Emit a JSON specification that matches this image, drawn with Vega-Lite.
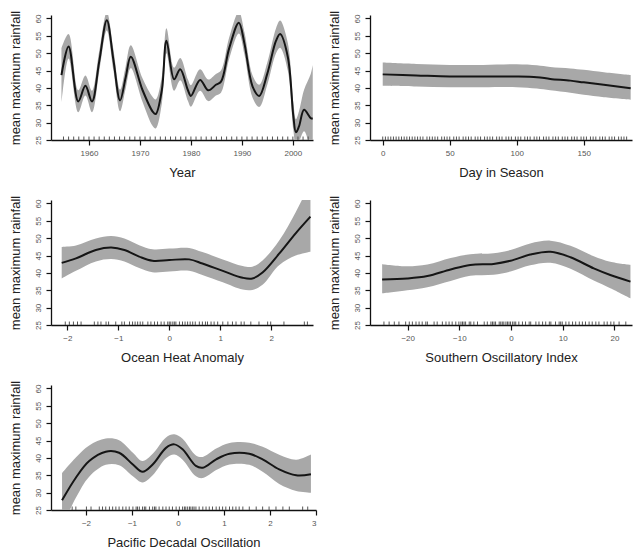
{
  "$schema": "https://vega.github.io/schema/vega-lite/v6.json",
  "background": "white",
  "padding": {"left": 8, "top": 10, "right": 4, "bottom": 5},
  "columns": 2,
  "spacing": {"row": 60, "column": 54},
  "bounds": "flush",
  "config": {
    "view": {"stroke": null},
    "font": "Liberation Sans",
    "axis": {
      "grid": false,
      "domainColor": "#111",
      "domainWidth": 1.3,
      "tickColor": "#111",
      "tickWidth": 1.2,
      "tickSize": 5,
      "tickCount": 20,
      "format": "d",
      "labelFontSize": 8,
      "labelColor": "#555",
      "labelOverlap": false,
      "titleFontSize": 13,
      "titleFontWeight": "normal",
      "titleColor": "#222"
    },
    "axisX": {"labelPadding": 4, "titlePadding": 9},
    "axisY": {"labelAngle": -90, "labelAlign": "center", "labelBaseline": "bottom", "labelPadding": 4, "titlePadding": 12, "labelBound": false}
  },
  "datasets": {
    "year_fit": [
      {"x": 1954.6, "fit": 43.7, "lo": 35.6, "hi": 51.4},
      {"x": 1956.0, "fit": 51.9, "lo": 48.5, "hi": 55.5},
      {"x": 1957.9, "fit": 36.1, "lo": 33.0, "hi": 39.3},
      {"x": 1959.3, "fit": 40.6, "lo": 37.8, "hi": 43.6},
      {"x": 1960.6, "fit": 36.1, "lo": 33.0, "hi": 39.2},
      {"x": 1962.0, "fit": 47.5, "lo": 44.5, "hi": 50.5},
      {"x": 1963.5, "fit": 59.5, "lo": 56.5, "hi": 61.8},
      {"x": 1964.8, "fit": 48.0, "lo": 45.0, "hi": 51.0},
      {"x": 1966.1, "fit": 36.4, "lo": 33.3, "hi": 39.5},
      {"x": 1967.2, "fit": 43.0, "lo": 39.8, "hi": 46.2},
      {"x": 1968.2, "fit": 49.0, "lo": 45.7, "hi": 52.3},
      {"x": 1970.5, "fit": 39.4, "lo": 36.0, "hi": 42.8},
      {"x": 1972.5, "fit": 33.2, "lo": 29.0, "hi": 37.4},
      {"x": 1973.1, "fit": 32.5, "lo": 28.3, "hi": 36.7},
      {"x": 1974.3, "fit": 39.4, "lo": 35.5, "hi": 43.3},
      {"x": 1975.2, "fit": 53.6, "lo": 50.0, "hi": 57.2},
      {"x": 1976.7, "fit": 42.5, "lo": 39.2, "hi": 45.8},
      {"x": 1977.9, "fit": 45.4, "lo": 42.2, "hi": 48.6},
      {"x": 1979.4, "fit": 39.4, "lo": 36.3, "hi": 42.5},
      {"x": 1980.0, "fit": 37.7, "lo": 34.6, "hi": 40.8},
      {"x": 1981.8, "fit": 42.3, "lo": 39.2, "hi": 45.4},
      {"x": 1983.4, "fit": 39.3, "lo": 36.2, "hi": 42.4},
      {"x": 1984.9, "fit": 40.9, "lo": 37.8, "hi": 44.0},
      {"x": 1985.9, "fit": 41.8, "lo": 38.6, "hi": 45.0},
      {"x": 1987.5, "fit": 51.4, "lo": 48.3, "hi": 54.5},
      {"x": 1989.4, "fit": 58.8, "lo": 55.7, "hi": 61.9},
      {"x": 1990.5, "fit": 52.8, "lo": 49.6, "hi": 56.0},
      {"x": 1992.1, "fit": 40.4, "lo": 37.2, "hi": 43.6},
      {"x": 1993.4, "fit": 37.7, "lo": 34.5, "hi": 40.9},
      {"x": 1995.0, "fit": 44.2, "lo": 41.0, "hi": 47.4},
      {"x": 1996.7, "fit": 53.6, "lo": 50.0, "hi": 57.2},
      {"x": 1997.5, "fit": 55.5, "lo": 51.6, "hi": 59.4},
      {"x": 1999.0, "fit": 49.0, "lo": 45.0, "hi": 53.0},
      {"x": 2000.1, "fit": 31.8, "lo": 27.8, "hi": 35.8},
      {"x": 2000.6, "fit": 27.2, "lo": 23.5, "hi": 31.0},
      {"x": 2001.2, "fit": 28.9, "lo": 24.5, "hi": 33.3},
      {"x": 2002.2, "fit": 33.7, "lo": 27.5, "hi": 39.5},
      {"x": 2003.5, "fit": 31.3, "lo": 22.0, "hi": 44.0},
      {"x": 2003.9, "fit": 31.2, "lo": 20.0, "hi": 46.6}
    ],
    "year_rug": [
      {"x": 1955}, {"x": 1956}, {"x": 1957}, {"x": 1958}, {"x": 1959}, {"x": 1960}, {"x": 1961}, {"x": 1962}, {"x": 1963}, {"x": 1964},
      {"x": 1965}, {"x": 1966}, {"x": 1967}, {"x": 1968}, {"x": 1969}, {"x": 1970}, {"x": 1971}, {"x": 1972}, {"x": 1973}, {"x": 1974},
      {"x": 1975}, {"x": 1976}, {"x": 1977}, {"x": 1978}, {"x": 1979}, {"x": 1980}, {"x": 1981}, {"x": 1982}, {"x": 1983}, {"x": 1984},
      {"x": 1985}, {"x": 1986}, {"x": 1987}, {"x": 1988}, {"x": 1989}, {"x": 1990}, {"x": 1991}, {"x": 1992}, {"x": 1993}, {"x": 1994},
      {"x": 1995}, {"x": 1996}, {"x": 1997}, {"x": 1998}, {"x": 1999}, {"x": 2000}, {"x": 2001}, {"x": 2002}, {"x": 2003}
    ],
    "day_fit": [
      {"x": 0, "fit": 43.9, "lo": 40.6, "hi": 47.3},
      {"x": 25, "fit": 43.6, "lo": 40.4, "hi": 46.9},
      {"x": 50, "fit": 43.3, "lo": 40.2, "hi": 46.6},
      {"x": 75, "fit": 43.3, "lo": 40.2, "hi": 46.6},
      {"x": 100, "fit": 43.3, "lo": 40.2, "hi": 46.8},
      {"x": 115, "fit": 43.1, "lo": 39.8, "hi": 46.5},
      {"x": 125, "fit": 42.6, "lo": 39.3, "hi": 46.0},
      {"x": 140, "fit": 42.1, "lo": 38.6, "hi": 45.6},
      {"x": 150, "fit": 41.6, "lo": 38.0, "hi": 45.2},
      {"x": 165, "fit": 40.9, "lo": 37.3, "hi": 44.5},
      {"x": 185, "fit": 39.9, "lo": 36.6, "hi": 43.7}
    ],
    "day_rug": [
      {"x": 0}, {"x": 2}, {"x": 4}, {"x": 6}, {"x": 8}, {"x": 10}, {"x": 12}, {"x": 14}, {"x": 16}, {"x": 18},
      {"x": 20}, {"x": 22}, {"x": 24}, {"x": 26}, {"x": 28}, {"x": 30}, {"x": 33}, {"x": 35}, {"x": 37}, {"x": 39},
      {"x": 41}, {"x": 44}, {"x": 46}, {"x": 48}, {"x": 50}, {"x": 53}, {"x": 55}, {"x": 57}, {"x": 60}, {"x": 62},
      {"x": 64}, {"x": 66}, {"x": 69}, {"x": 71}, {"x": 73}, {"x": 76}, {"x": 78}, {"x": 80}, {"x": 82}, {"x": 85},
      {"x": 87}, {"x": 89}, {"x": 92}, {"x": 94}, {"x": 96}, {"x": 99}, {"x": 101}, {"x": 103}, {"x": 106}, {"x": 108},
      {"x": 110}, {"x": 113}, {"x": 115}, {"x": 117}, {"x": 120}, {"x": 122}, {"x": 124}, {"x": 127}, {"x": 129}, {"x": 131},
      {"x": 134}, {"x": 136}, {"x": 138}, {"x": 141}, {"x": 143}, {"x": 145}, {"x": 148}, {"x": 150}, {"x": 152}, {"x": 155},
      {"x": 157}, {"x": 159}, {"x": 162}, {"x": 164}, {"x": 166}, {"x": 169}, {"x": 171}, {"x": 173}, {"x": 176}, {"x": 178},
      {"x": 180}, {"x": 182}
    ],
    "ocean_fit": [
      {"x": -2.11, "fit": 42.9, "lo": 38.4, "hi": 47.5},
      {"x": -1.83, "fit": 44.2, "lo": 40.6, "hi": 47.9},
      {"x": -1.44, "fit": 46.6, "lo": 43.3, "hi": 49.9},
      {"x": -1.14, "fit": 47.3, "lo": 44.0, "hi": 50.6},
      {"x": -0.88, "fit": 46.6, "lo": 43.3, "hi": 49.9},
      {"x": -0.59, "fit": 44.7, "lo": 41.4, "hi": 48.0},
      {"x": -0.33, "fit": 43.5, "lo": 40.2, "hi": 46.8},
      {"x": 0.0, "fit": 43.7, "lo": 40.4, "hi": 47.0},
      {"x": 0.39, "fit": 43.9, "lo": 40.6, "hi": 47.2},
      {"x": 0.65, "fit": 42.7, "lo": 39.4, "hi": 46.0},
      {"x": 1.05, "fit": 40.6, "lo": 37.3, "hi": 43.9},
      {"x": 1.44, "fit": 38.6, "lo": 35.2, "hi": 42.0},
      {"x": 1.63, "fit": 38.4, "lo": 35.1, "hi": 41.8},
      {"x": 1.83, "fit": 40.1, "lo": 36.6, "hi": 43.6},
      {"x": 2.16, "fit": 45.6, "lo": 42.3, "hi": 49.4},
      {"x": 2.48, "fit": 51.4, "lo": 45.0, "hi": 57.5},
      {"x": 2.77, "fit": 56.2, "lo": 46.1, "hi": 66.0}
    ],
    "ocean_rug": [
      {"x": -2.04}, {"x": -1.96}, {"x": -1.88}, {"x": -1.80}, {"x": -1.73}, {"x": -1.47}, {"x": -1.40}, {"x": -1.34}, {"x": -1.24}, {"x": -1.19},
      {"x": -1.05}, {"x": -0.93}, {"x": -0.88}, {"x": -0.78}, {"x": -0.72}, {"x": -0.67}, {"x": -0.62}, {"x": -0.57}, {"x": -0.52}, {"x": -0.42},
      {"x": -0.36}, {"x": -0.29}, {"x": -0.23}, {"x": -0.16}, {"x": -0.10}, {"x": -0.03}, {"x": 0.0}, {"x": 0.03}, {"x": 0.07}, {"x": 0.10},
      {"x": 0.13}, {"x": 0.20}, {"x": 0.26}, {"x": 0.31}, {"x": 0.36}, {"x": 0.41}, {"x": 0.46}, {"x": 0.51}, {"x": 0.59}, {"x": 0.65},
      {"x": 0.71}, {"x": 0.75}, {"x": 0.82}, {"x": 0.88}, {"x": 0.95}, {"x": 1.05}, {"x": 1.15}, {"x": 1.24}, {"x": 1.31}, {"x": 1.41},
      {"x": 1.47}, {"x": 1.60}, {"x": 1.76}, {"x": 1.93}, {"x": 1.99}, {"x": 2.25}, {"x": 2.65}, {"x": 2.71}
    ],
    "soi_fit": [
      {"x": -24.95, "fit": 38.1, "lo": 34.1, "hi": 42.5},
      {"x": -20.1, "fit": 38.4, "lo": 35.0, "hi": 41.9},
      {"x": -16.2, "fit": 39.1, "lo": 35.9, "hi": 42.4},
      {"x": -11.7, "fit": 41.0, "lo": 37.7, "hi": 44.3},
      {"x": -7.9, "fit": 42.3, "lo": 39.2, "hi": 45.4},
      {"x": -3.4, "fit": 42.6, "lo": 39.5, "hi": 45.7},
      {"x": -0.1, "fit": 43.5, "lo": 40.4, "hi": 46.6},
      {"x": 3.7, "fit": 45.3, "lo": 42.2, "hi": 48.5},
      {"x": 7.6, "fit": 46.1, "lo": 42.9, "hi": 49.3},
      {"x": 11.5, "fit": 44.5, "lo": 41.2, "hi": 47.8},
      {"x": 16.0, "fit": 41.3, "lo": 37.8, "hi": 44.8},
      {"x": 19.2, "fit": 39.4, "lo": 35.6, "hi": 43.2},
      {"x": 23.1, "fit": 37.5, "lo": 32.7, "hi": 42.3}
    ],
    "soi_rug": [
      {"x": -24.6}, {"x": -23.6}, {"x": -22.6}, {"x": -21.7}, {"x": -20.4}, {"x": -19.7}, {"x": -19.1}, {"x": -18.4}, {"x": -17.8}, {"x": -17.2},
      {"x": -16.5}, {"x": -16.2}, {"x": -14.9}, {"x": -14.3}, {"x": -13.3}, {"x": -12.6}, {"x": -12.0}, {"x": -11.4}, {"x": -10.7}, {"x": -10.1},
      {"x": -9.7}, {"x": -9.4}, {"x": -9.1}, {"x": -8.8}, {"x": -8.1}, {"x": -7.8}, {"x": -7.2}, {"x": -6.5}, {"x": -5.2}, {"x": -4.6},
      {"x": -3.9}, {"x": -3.6}, {"x": -3.3}, {"x": -3.0}, {"x": -2.3}, {"x": -2.0}, {"x": -1.7}, {"x": -1.4}, {"x": -1.0}, {"x": -0.7},
      {"x": -0.4}, {"x": -0.1}, {"x": 0.3}, {"x": 0.6}, {"x": 0.9}, {"x": 1.5}, {"x": 2.2}, {"x": 2.8}, {"x": 3.5}, {"x": 3.8},
      {"x": 4.8}, {"x": 5.4}, {"x": 6.1}, {"x": 6.7}, {"x": 7.4}, {"x": 7.7}, {"x": 8.6}, {"x": 9.3}, {"x": 9.6}, {"x": 9.9},
      {"x": 10.6}, {"x": 11.2}, {"x": 11.9}, {"x": 12.5}, {"x": 13.2}, {"x": 13.8}, {"x": 14.4}, {"x": 15.1}, {"x": 15.7}, {"x": 16.4},
      {"x": 17.0}, {"x": 18.0}, {"x": 18.6}, {"x": 19.3}, {"x": 19.9}, {"x": 20.9}, {"x": 22.2}
    ],
    "pdo_fit": [
      {"x": -2.52, "fit": 27.8, "lo": 20.0, "hi": 35.6},
      {"x": -2.22, "fit": 34.3, "lo": 28.5, "hi": 40.1},
      {"x": -1.93, "fit": 39.1, "lo": 34.6, "hi": 43.6},
      {"x": -1.57, "fit": 41.8, "lo": 38.0, "hi": 45.6},
      {"x": -1.28, "fit": 41.5, "lo": 37.9, "hi": 45.1},
      {"x": -0.98, "fit": 38.1, "lo": 34.7, "hi": 41.5},
      {"x": -0.77, "fit": 36.0, "lo": 32.9, "hi": 39.1},
      {"x": -0.55, "fit": 38.1, "lo": 35.0, "hi": 41.2},
      {"x": -0.26, "fit": 42.9, "lo": 39.9, "hi": 45.9},
      {"x": -0.08, "fit": 43.9, "lo": 41.0, "hi": 46.8},
      {"x": 0.10, "fit": 42.5, "lo": 39.5, "hi": 45.5},
      {"x": 0.39, "fit": 37.7, "lo": 34.7, "hi": 40.7},
      {"x": 0.54, "fit": 37.2, "lo": 34.2, "hi": 40.3},
      {"x": 0.83, "fit": 39.6, "lo": 36.5, "hi": 42.7},
      {"x": 1.12, "fit": 41.2, "lo": 38.1, "hi": 44.3},
      {"x": 1.55, "fit": 41.2, "lo": 38.0, "hi": 44.4},
      {"x": 1.84, "fit": 39.6, "lo": 36.0, "hi": 43.2},
      {"x": 2.20, "fit": 36.7, "lo": 32.5, "hi": 40.9},
      {"x": 2.57, "fit": 35.0, "lo": 30.5, "hi": 39.5},
      {"x": 2.89, "fit": 35.3, "lo": 30.0, "hi": 41.0}
    ],
    "pdo_rug": [
      {"x": -2.30}, {"x": -2.22}, {"x": -1.99}, {"x": -1.89}, {"x": -1.71}, {"x": -1.64}, {"x": -1.57}, {"x": -1.49}, {"x": -1.42}, {"x": -1.35},
      {"x": -1.28}, {"x": -1.20}, {"x": -1.13}, {"x": -1.06}, {"x": -0.98}, {"x": -0.91}, {"x": -0.88}, {"x": -0.84}, {"x": -0.77}, {"x": -0.73},
      {"x": -0.70}, {"x": -0.62}, {"x": -0.55}, {"x": -0.51}, {"x": -0.48}, {"x": -0.41}, {"x": -0.33}, {"x": -0.26}, {"x": -0.19}, {"x": -0.12},
      {"x": -0.04}, {"x": 0.03}, {"x": 0.10}, {"x": 0.14}, {"x": 0.17}, {"x": 0.21}, {"x": 0.25}, {"x": 0.28}, {"x": 0.32}, {"x": 0.35},
      {"x": 0.39}, {"x": 0.46}, {"x": 0.54}, {"x": 0.61}, {"x": 0.68}, {"x": 0.75}, {"x": 0.83}, {"x": 0.90}, {"x": 0.97}, {"x": 1.04},
      {"x": 1.12}, {"x": 1.19}, {"x": 1.26}, {"x": 1.33}, {"x": 1.41}, {"x": 1.55}, {"x": 1.70}, {"x": 1.84}, {"x": 1.98}, {"x": 2.13},
      {"x": 2.28}, {"x": 2.42}, {"x": 2.71}, {"x": 2.82}
    ]
  },
  "concat": [
    {
      "width": 262, "height": 125,
      "layer": [
        {"data": {"name": "year_fit"}, "mark": {"type": "area", "color": "#a8a8a8", "interpolate": "catmull-rom", "clip": true},
         "encoding": {
           "x": {"field": "x", "type": "quantitative", "scale": {"domain": [1952.55, 2003.95], "nice": false, "zero": false}, "axis": {"title": "Year", "values": [1960, 1970, 1980, 1990, 2000], "format": "d", "tickCount": 20}},
           "y": {"field": "lo", "type": "quantitative", "scale": {"domain": [25, 61], "nice": false, "zero": false}, "axis": {"title": "mean maximum rainfall", "values": [25, 30, 35, 40, 45, 50, 55, 60], "format": "d", "tickCount": 20}},
           "y2": {"field": "hi"}}},
        {"data": {"name": "year_fit"}, "mark": {"type": "line", "color": "#151515", "strokeWidth": 2, "interpolate": "catmull-rom", "clip": true},
         "encoding": {"x": {"field": "x", "type": "quantitative"}, "y": {"field": "fit", "type": "quantitative"}}},
        {"data": {"name": "year_rug"}, "mark": {"type": "rule", "color": "#555", "strokeWidth": 1},
         "encoding": {"x": {"field": "x", "type": "quantitative"}, "y": {"datum": 25}, "y2": {"datum": 26}}}
      ]
    },
    {
      "width": 262, "height": 125,
      "layer": [
        {"data": {"name": "day_fit"}, "mark": {"type": "area", "color": "#a8a8a8", "interpolate": "catmull-rom", "clip": true},
         "encoding": {
           "x": {"field": "x", "type": "quantitative", "scale": {"domain": [-9.5, 186], "nice": false, "zero": false}, "axis": {"title": "Day in Season", "values": [0, 50, 100, 150], "format": "d", "tickCount": 20}},
           "y": {"field": "lo", "type": "quantitative", "scale": {"domain": [25, 61], "nice": false, "zero": false}, "axis": {"title": "mean maximum rainfall", "values": [25, 30, 35, 40, 45, 50, 55, 60], "format": "d", "tickCount": 20}},
           "y2": {"field": "hi"}}},
        {"data": {"name": "day_fit"}, "mark": {"type": "line", "color": "#151515", "strokeWidth": 2, "interpolate": "catmull-rom", "clip": true},
         "encoding": {"x": {"field": "x", "type": "quantitative"}, "y": {"field": "fit", "type": "quantitative"}}},
        {"data": {"name": "day_rug"}, "mark": {"type": "rule", "color": "#555", "strokeWidth": 1},
         "encoding": {"x": {"field": "x", "type": "quantitative"}, "y": {"datum": 25}, "y2": {"datum": 26}}}
      ]
    },
    {
      "width": 262, "height": 125,
      "layer": [
        {"data": {"name": "ocean_fit"}, "mark": {"type": "area", "color": "#a8a8a8", "interpolate": "catmull-rom", "clip": true},
         "encoding": {
           "x": {"field": "x", "type": "quantitative", "scale": {"domain": [-2.32, 2.82], "nice": false, "zero": false}, "axis": {"title": "Ocean Heat Anomaly", "values": [-2, -1, 0, 1, 2], "format": "d", "tickCount": 20}},
           "y": {"field": "lo", "type": "quantitative", "scale": {"domain": [25, 61], "nice": false, "zero": false}, "axis": {"title": "mean maximum rainfall", "values": [25, 30, 35, 40, 45, 50, 55, 60], "format": "d", "tickCount": 20}},
           "y2": {"field": "hi"}}},
        {"data": {"name": "ocean_fit"}, "mark": {"type": "line", "color": "#151515", "strokeWidth": 2, "interpolate": "catmull-rom", "clip": true},
         "encoding": {"x": {"field": "x", "type": "quantitative"}, "y": {"field": "fit", "type": "quantitative"}}},
        {"data": {"name": "ocean_rug"}, "mark": {"type": "rule", "color": "#555", "strokeWidth": 1},
         "encoding": {"x": {"field": "x", "type": "quantitative"}, "y": {"datum": 25}, "y2": {"datum": 26}}}
      ]
    },
    {
      "width": 262, "height": 125,
      "layer": [
        {"data": {"name": "soi_fit"}, "mark": {"type": "area", "color": "#a8a8a8", "interpolate": "catmull-rom", "clip": true},
         "encoding": {
           "x": {"field": "x", "type": "quantitative", "scale": {"domain": [-27.3, 23.4], "nice": false, "zero": false}, "axis": {"title": "Southern Oscillatory Index", "values": [-20, -10, 0, 10, 20], "format": "d", "tickCount": 20}},
           "y": {"field": "lo", "type": "quantitative", "scale": {"domain": [25, 61], "nice": false, "zero": false}, "axis": {"title": "mean maximum rainfall", "values": [25, 30, 35, 40, 45, 50, 55, 60], "format": "d", "tickCount": 20}},
           "y2": {"field": "hi"}}},
        {"data": {"name": "soi_fit"}, "mark": {"type": "line", "color": "#151515", "strokeWidth": 2, "interpolate": "catmull-rom", "clip": true},
         "encoding": {"x": {"field": "x", "type": "quantitative"}, "y": {"field": "fit", "type": "quantitative"}}},
        {"data": {"name": "soi_rug"}, "mark": {"type": "rule", "color": "#555", "strokeWidth": 1},
         "encoding": {"x": {"field": "x", "type": "quantitative"}, "y": {"datum": 25}, "y2": {"datum": 26}}}
      ]
    },
    {
      "width": 265, "height": 125,
      "layer": [
        {"data": {"name": "pdo_fit"}, "mark": {"type": "area", "color": "#a8a8a8", "interpolate": "catmull-rom", "clip": true},
         "encoding": {
           "x": {"field": "x", "type": "quantitative", "scale": {"domain": [-2.76, 3.0], "nice": false, "zero": false}, "axis": {"title": "Pacific Decadal Oscillation", "values": [-2, -1, 0, 1, 2, 3], "format": "d", "tickCount": 20}},
           "y": {"field": "lo", "type": "quantitative", "scale": {"domain": [25, 61], "nice": false, "zero": false}, "axis": {"title": "mean maximum rainfall", "values": [25, 30, 35, 40, 45, 50, 55, 60], "format": "d", "tickCount": 20}},
           "y2": {"field": "hi"}}},
        {"data": {"name": "pdo_fit"}, "mark": {"type": "line", "color": "#151515", "strokeWidth": 2, "interpolate": "catmull-rom", "clip": true},
         "encoding": {"x": {"field": "x", "type": "quantitative"}, "y": {"field": "fit", "type": "quantitative"}}},
        {"data": {"name": "pdo_rug"}, "mark": {"type": "rule", "color": "#555", "strokeWidth": 1},
         "encoding": {"x": {"field": "x", "type": "quantitative"}, "y": {"datum": 25}, "y2": {"datum": 26}}}
      ]
    }
  ]
}
